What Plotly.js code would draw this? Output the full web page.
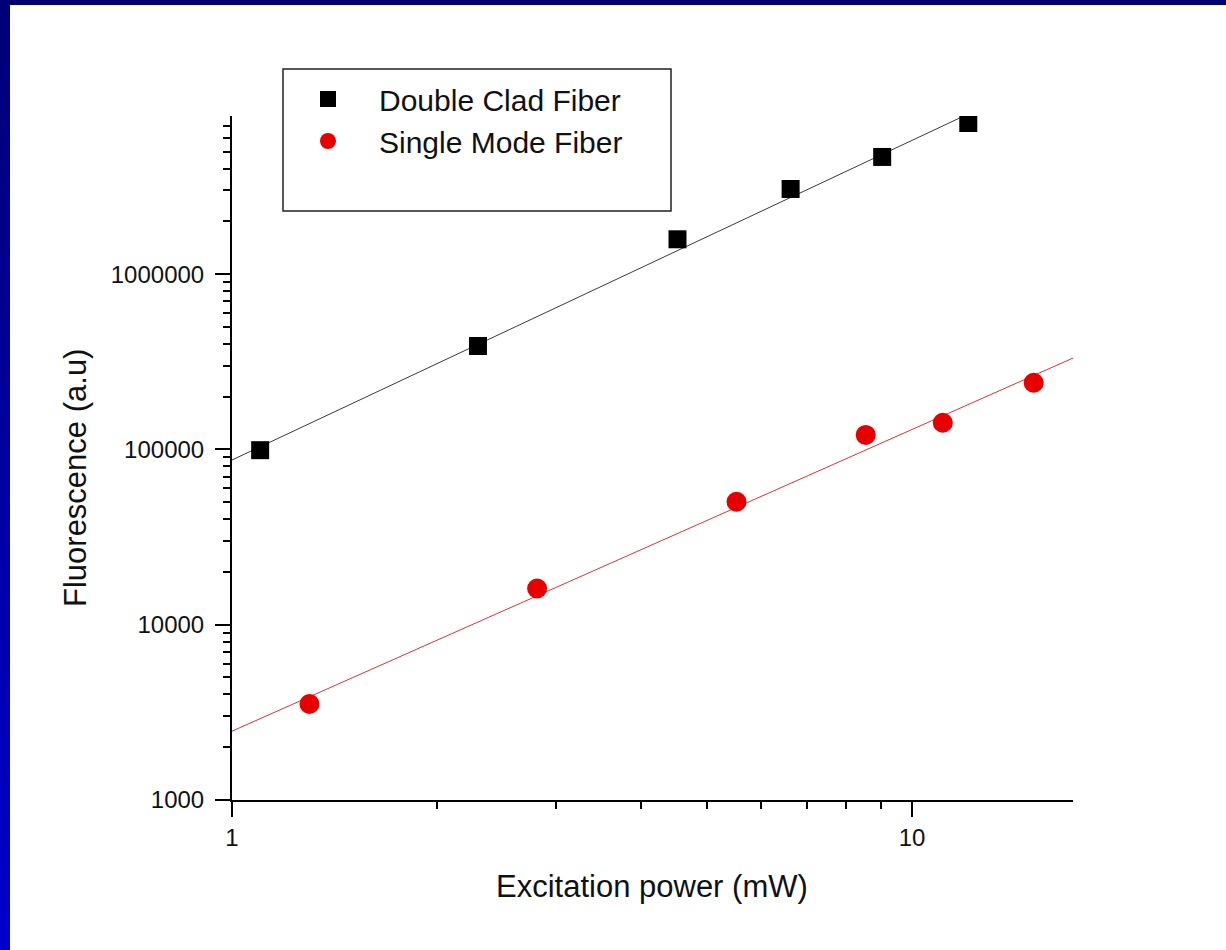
<!DOCTYPE html>
<html>
<head>
<meta charset="utf-8">
<script src="https://cdn.plot.ly/plotly-3.0.1.min.js"></script>
<style>
  html, body { margin: 0; padding: 0; background: #ffffff; width: 1226px; height: 950px; overflow: hidden; }
  #topbar { position: absolute; left: 0; top: 0; width: 1226px; height: 5px; background: #000070; }
  #leftbar { position: absolute; left: 0; top: 0; width: 10px; height: 950px; background: linear-gradient(to bottom, #000078, #0000cc); }
  #chart { position: absolute; left: 0; top: 0; width: 1226px; height: 950px; }
</style>
</head>
<body>
<div id="chart"></div>
<div id="topbar"></div>
<div id="leftbar"></div>
<script>
// ---- data ----
const dcfPower = [1.1, 2.3, 4.52, 6.63, 9.04, 12.1];
const dcfFluor = [99000, 389000, 1580000, 3060000, 4660000, 7280000];
const smfPower = [1.3, 2.81, 5.52, 8.55, 11.1, 15.1];
const smfFluor = [3530, 16100, 50300, 121000, 142000, 240000];
// fitted lines (end points)
const dcfFitPower = [1, 17.25];
const dcfFitFluor = [87000, 15650000];
const smfFitPower = [1, 17.25];
const smfFitFluor = [2470, 332000];
// tick labels
const xTickVals = [1, 10];
const xTickText = ['1', '10'];
const yTickVals = [1000, 10000, 100000, 1000000];
const yTickText = ['1000', '10000', '100000', '1000000'];
const seriesNames = ['Double Clad Fiber', 'Single Mode Fiber'];

function minorTicks(decades) {
  const out = [];
  decades.forEach(d => { for (let k = 2; k <= 9; k++) out.push(k * d); });
  return out;
}

const FONT = 'Arial, "Liberation Sans", Helvetica, sans-serif';

const traces = [
  { x: dcfFitPower, y: dcfFitFluor, mode: 'lines', showlegend: false, hoverinfo: 'skip',
    line: { color: '#3a3a3a', width: 1 } },
  { x: smfFitPower, y: smfFitFluor, mode: 'lines', showlegend: false, hoverinfo: 'skip',
    line: { color: '#e0303a', width: 1 } },
  { x: dcfPower, y: dcfFluor, mode: 'markers', name: seriesNames[0],
    marker: { symbol: 'square', size: 18, color: '#000000' } },
  { x: smfPower, y: smfFluor, mode: 'markers', name: seriesNames[1],
    marker: { symbol: 'circle', size: 20, color: '#e60000' } }
];

const L = 232, R = 153, T = 116, B = 150;
const PW = 1226 - L - R, PH = 950 - T - B;
const px = v => (v - L) / PW;
const py = v => (950 - B - v) / PH;

const layout = {
  width: 1226, height: 950,
  margin: { l: L, r: R, t: T, b: B, pad: 0 },
  paper_bgcolor: 'rgba(0,0,0,0)',
  plot_bgcolor: '#ffffff',
  font: { family: FONT, color: '#111111' },
  xaxis: {
    type: 'log', range: [0, Math.log10(17.25)],
    showgrid: false, zeroline: false,
    showline: true, linecolor: '#000000', linewidth: 2,
    ticks: 'outside', ticklen: 15, tickwidth: 2, tickcolor: '#000000',
    tickmode: 'array', tickvals: xTickVals, ticktext: xTickText,
    tickfont: { family: FONT, size: 24, color: '#111111' },
    minor: { tickmode: 'array', tickvals: minorTicks([1]), ticks: 'outside', ticklen: 7, tickwidth: 2, tickcolor: '#000000', showgrid: false }
  },
  yaxis: {
    type: 'log', range: [3, 6.902],
    showgrid: false, zeroline: false,
    showline: true, linecolor: '#000000', linewidth: 2,
    ticks: 'outside', ticklen: 15, tickwidth: 2, tickcolor: '#000000',
    tickmode: 'array', tickvals: yTickVals, ticktext: yTickText,
    tickfont: { family: FONT, size: 24, color: '#111111' },
    ticklabelstandoff: 6,
    minor: { tickmode: 'array', tickvals: minorTicks([1000, 10000, 100000, 1000000]), ticks: 'outside', ticklen: 7, tickwidth: 2, tickcolor: '#000000', showgrid: false }
  },
  showlegend: true,
  legend: {
    x: px(277), y: py(73), xanchor: 'left', yanchor: 'top',
    bgcolor: 'rgba(0,0,0,0)', borderwidth: 0,
    itemwidth: 92,
    font: { family: FONT, size: 30, color: '#111111' }
  },
  shapes: [
    { type: 'rect', xref: 'paper', yref: 'paper',
      x0: px(283), x1: px(671), y0: py(211), y1: py(69),
      line: { color: '#222222', width: 1.5 }, fillcolor: 'rgba(0,0,0,0)' }
  ],
  annotations: [
    { text: 'Excitation power (mW)', xref: 'paper', yref: 'paper',
      x: px(652), y: py(886), xanchor: 'center', yanchor: 'middle', showarrow: false,
      font: { family: FONT, size: 31, color: '#111111' } },
    { text: 'Fluorescence (a.u)', xref: 'paper', yref: 'paper', textangle: -90,
      x: px(76), y: py(478), xanchor: 'center', yanchor: 'middle', showarrow: false,
      font: { family: FONT, size: 31, color: '#111111' } }
  ]
};

Plotly.newPlot('chart', traces, layout, { displayModeBar: false, staticPlot: true });
</script>
</body>
</html>
